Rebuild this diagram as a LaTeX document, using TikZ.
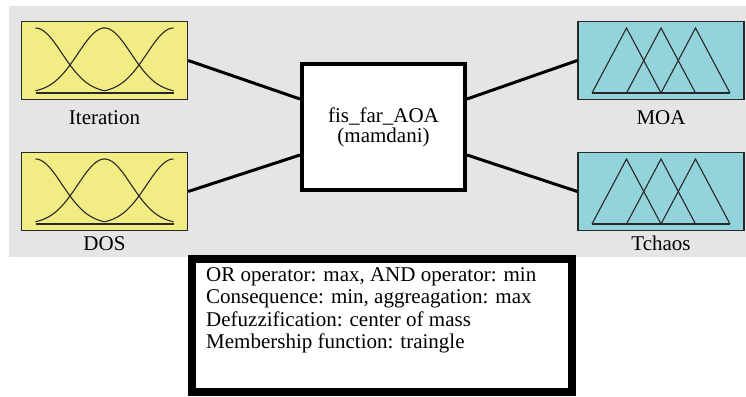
\documentclass[tikz,border=0pt]{standalone}
\usepackage{fontspec}
\setmainfont{Liberation Serif}
\usepackage{tikz}

\definecolor{mfyellow}{RGB}{242,236,133}
\definecolor{mfcyan}{RGB}{147,211,220}
\definecolor{bggray}{RGB}{229,229,229}
\definecolor{mfline}{RGB}{40,40,40}

% gaussian membership functions inside an input box
\newcommand{\gaussmfs}[1]{%
  \begin{scope}[shift={(#1.center)}]
    \draw[mfcurve] plot[domain=-69:0,samples=40,smooth] (\x,{-32.5+65*exp(0-((\x+69)^2)/1415)});
    \draw[mfcurve] plot[domain=-69:69,samples=60,smooth] (\x,{-32.5+65*exp(0-(\x*\x)/1415)});
    \draw[mfcurve] plot[domain=0:69,samples=40,smooth] (\x,{-32.5+65*exp(0-((\x-69)^2)/1415)});
    \draw[mfcurve] (-69,-32.5) -- (69,-32.5);
  \end{scope}}

% triangular membership functions inside an output box
\newcommand{\trimfs}[1]{%
  \begin{scope}[shift={(#1.center)}]
    \draw[mfcurve] (-69,-32.5) -- (-34.5,32.5) -- (0,-32.5);
    \draw[mfcurve] (-34.5,-32.5) -- (0,32.5) -- (34.5,-32.5);
    \draw[mfcurve] (0,-32.5) -- (34.5,32.5) -- (69,-32.5);
    \draw[mfcurve] (-69,-32.5) -- (69,-32.5);
  \end{scope}}

\begin{document}
\begin{tikzpicture}[x=1pt,y=1pt,
    txt/.style={font=\fontsize{21}{22}\selectfont, inner sep=0pt},
    mfbox/.style={draw=mfline, line width=1.4pt, minimum width=166pt, minimum height=78pt, inner sep=0pt},
    inbox/.style={mfbox, fill=mfyellow},
    outbox/.style={mfbox, fill=mfcyan},
    mfcurve/.style={draw=mfline, line width=1.1pt},
    wire/.style={line width=3pt}]
    \useasboundingbox (0,0) rectangle (746,396);

    % background
    \fill[bggray] (9,139) rectangle (746,390);

    % inputs
    \node[inbox] (iter) at (104.5,335.5) {};
    \node[inbox] (dos) at (104.5,204.5) {};
    \gaussmfs{iter}
    \gaussmfs{dos}
    \node[txt, anchor=base] (iterlabel) at (104.5,271.5) {Iteration};
    \node[txt, anchor=base] (doslabel) at (104.5,145) {DOS};

    % outputs
    \node[outbox] (moa) at (661,335.5) {};
    \node[outbox] (tchaos) at (661,204.5) {};
    \trimfs{moa}
    \trimfs{tchaos}
    \node[txt, anchor=base] (moalabel) at (661,271.5) {MOA};
    \node[txt, anchor=base] (tchaoslabel) at (661,145) {Tchaos};

    % fuzzy system
    \node[draw, fill=white, line width=4pt, minimum width=163pt, minimum height=126pt,
          align=center, font=\fontsize{21}{20}\selectfont] (fis) at (383.5,269)
          {fis\_far\_AOA\\(mamdani)};

    \draw[wire] (iter.east) -- ([yshift=28pt]fis.west);
    \draw[wire] (dos.east) -- ([yshift=-28pt]fis.west);
    \draw[wire] ([yshift=28pt]fis.east) -- (moa.west);
    \draw[wire] ([yshift=-28pt]fis.east) -- (tchaos.west);

    % settings
    \node[draw, line width=8pt, minimum width=380pt, minimum height=133pt] (info) at (382,70.5) {};
    \node[txt, anchor=base west, align=left] (infotext) at (206,48)
      {OR operator: max, AND operator: min\\
       Consequence: min, aggreagation: max\\
       Defuzzification: center of mass\\
       Membership function: traingle};

\end{tikzpicture}
\end{document}
